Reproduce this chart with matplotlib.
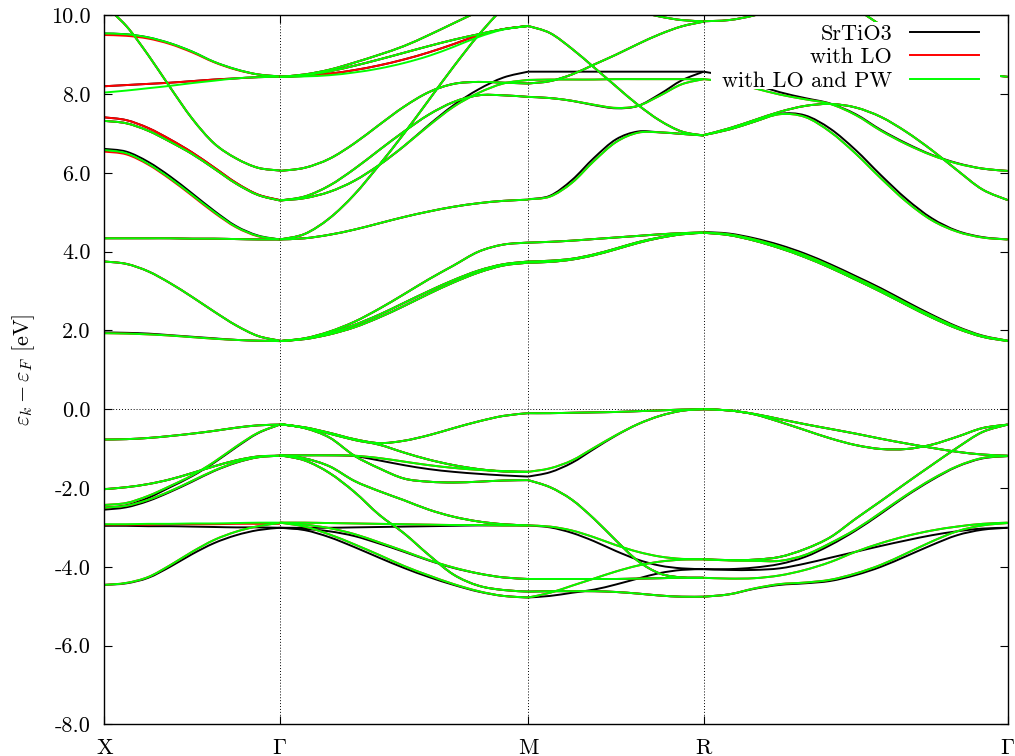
import numpy as np
import matplotlib
matplotlib.use('Agg')
import matplotlib.pyplot as plt
from matplotlib.path import Path
from matplotlib.patches import PathPatch, Rectangle
from matplotlib.lines import Line2D

plt.rcParams['font.family'] = 'serif'
plt.rcParams['font.serif'] = ['cmr10']
plt.rcParams['mathtext.fontset'] = 'cm'
plt.rcParams['axes.unicode_minus'] = False

# k-path X - G - M - R - G (cubic, units of 2pi/a)
k_nodes = [0.0, 0.5, 1.20711, 1.70711, 2.57314]
k_labels = ['X', r'$\Gamma$', 'M', 'R', r'$\Gamma$']
n_pts = [9, 11, 9, 13]

# ---- X -> Gamma (9 points) ----
xg_v1 = [-0.77, -0.76, -0.73, -0.68, -0.62, -0.55, -0.47, -0.41, -0.39]
xg_v2_grn = [-2.43, -2.38, -2.20, -1.95, -1.68, -1.34, -0.95, -0.60, -0.39]
xg_v2_blk = [-2.50, -2.44, -2.25, -1.98, -1.70, -1.36, -0.97, -0.61, -0.39]
xg_v3 = [-2.03, -1.98, -1.90, -1.78, -1.62, -1.45, -1.30, -1.20, -1.18]
xg_v4_grn = [-2.50, -2.45, -2.30, -2.08, -1.82, -1.56, -1.35, -1.22, -1.18]
xg_v4_blk = [-2.55, -2.49, -2.33, -2.10, -1.84, -1.57, -1.36, -1.22, -1.18]
xg_v5_grn = [-2.92, -2.92, -2.91, -2.91, -2.90, -2.90, -2.89, -2.88, -2.88]
xg_v5_red = [-2.93, -2.93, -2.93, -2.92, -2.92, -2.92, -2.91, -2.91, -2.91]
xg_v5_blk = [-2.96, -2.96, -2.97, -2.97, -2.98, -2.99, -3.00, -3.00, -3.01]
xg_v6_grn = [-4.46, -4.41, -4.26, -3.96, -3.62, -3.32, -3.11, -2.97, -2.89]
xg_v6_blk = [-4.46, -4.42, -4.28, -4.00, -3.68, -3.40, -3.20, -3.07, -3.01]
xg_c1_grn = [1.93, 1.92, 1.90, 1.87, 1.83, 1.79, 1.76, 1.74, 1.73]
xg_c1_blk = [1.95, 1.94, 1.92, 1.88, 1.84, 1.80, 1.76, 1.74, 1.73]
xg_c2 = [3.75, 3.69, 3.50, 3.20, 2.85, 2.48, 2.13, 1.86, 1.74]
xg_c3 = [4.34, 4.34, 4.34, 4.34, 4.33, 4.33, 4.32, 4.31, 4.31]
xg_c4_grn = [6.58, 6.50, 6.23, 5.86, 5.44, 5.01, 4.63, 4.40, 4.31]
xg_c4_blk = [6.61, 6.54, 6.28, 5.91, 5.48, 5.04, 4.65, 4.41, 4.31]
xg_c4_red = [6.54, 6.47, 6.21, 5.84, 5.42, 4.99, 4.62, 4.39, 4.31]
xg_c5a = [7.41, 7.34, 7.14, 6.85, 6.52, 6.14, 5.75, 5.45, 5.31]
xg_c5b = [7.32, 7.26, 7.07, 6.79, 6.48, 6.11, 5.73, 5.44, 5.30]
xg_c6_blk = [8.20, 8.23, 8.26, 8.29, 8.33, 8.37, 8.40, 8.43, 8.44]
xg_c6_grn = [8.04, 8.09, 8.15, 8.21, 8.28, 8.34, 8.40, 8.43, 8.44]
xg_c7 = [9.54, 9.52, 9.44, 9.29, 9.08, 8.82, 8.63, 8.50, 8.45]
xg_c7_red = [9.50, 9.48, 9.41, 9.27, 9.06, 8.81, 8.62, 8.50, 8.45]
xg_c8 = [10.25, 9.73, 8.99, 8.17, 7.38, 6.75, 6.37, 6.13, 6.06]

# ---- Gamma -> M (11 points) ----
gm_a = [-0.38, -0.46, -0.60, -0.76, -0.86, -0.80, -0.66, -0.48, -0.31, -0.17, -0.10]
gm_b = [-0.38, -0.47, -0.62, -0.78, -0.90, -1.10, -1.28, -1.42, -1.52, -1.58, -1.59]
gm_c = [-0.38, -0.48, -0.72, -1.18, -1.50, -1.76, -1.84, -1.86, -1.84, -1.81, -1.80]
gm_d_grn = [-1.17, -1.17, -1.17, -1.18, -1.24, -1.33, -1.42, -1.49, -1.54, -1.57, -1.59]
gm_d_blk = [-1.17, -1.17, -1.17, -1.19, -1.30, -1.42, -1.52, -1.59, -1.64, -1.68, -1.71]
gm_e = [-1.17, -1.30, -1.62, -2.10, -2.68, -3.15, -3.70, -4.20, -4.48, -4.59, -4.63]
gm_f = [-1.17, -1.25, -1.45, -1.82, -2.08, -2.31, -2.55, -2.73, -2.85, -2.92, -2.95]
gm_g_grn = [-2.88, -2.88, -2.89, -2.90, -2.91, -2.92, -2.93, -2.94, -2.94, -2.95, -2.95]
gm_g_blk = [-3.01, -3.01, -3.01, -3.00, -2.99, -2.98, -2.97, -2.96, -2.95, -2.95, -2.95]
gm_h_grn = [-2.88, -2.93, -3.02, -3.17, -3.38, -3.60, -3.83, -4.02, -4.17, -4.27, -4.31]
gm_h_blk = [-3.01, -3.04, -3.10, -3.22, -3.41, -3.62, -3.84, -4.03, -4.17, -4.27, -4.31]
gm_i_grn = [-2.88, -2.98, -3.18, -3.43, -3.70, -3.98, -4.22, -4.44, -4.62, -4.74, -4.78]
gm_i_blk = [-3.01, -3.07, -3.25, -3.50, -3.77, -4.03, -4.26, -4.46, -4.63, -4.74, -4.78]
gm_d1a = [1.73, 1.80, 1.97, 2.22, 2.55, 2.92, 3.30, 3.65, 4.00, 4.18, 4.23]
gm_d1b = [1.73, 1.79, 1.93, 2.14, 2.40, 2.70, 3.00, 3.28, 3.52, 3.68, 3.75]
gm_d1c = [1.73, 1.78, 1.90, 2.08, 2.33, 2.62, 2.93, 3.22, 3.47, 3.65, 3.72]
gm_d2 = [4.31, 4.34, 4.43, 4.56, 4.72, 4.88, 5.02, 5.14, 5.23, 5.29, 5.32]
gm_d3 = [4.31, 4.45, 4.85, 5.45, 6.20, 7.00, 7.85, 8.70, 9.50, 10.20, 10.90]
gm_d4 = [5.30, 5.40, 5.68, 6.10, 6.58, 7.05, 7.48, 7.80, 7.97, 7.97, 7.93]
gm_d5_blk = [5.30, 5.36, 5.52, 5.80, 6.20, 6.68, 7.22, 7.72, 8.12, 8.42, 8.57]
gm_d5_grn = [5.30, 5.36, 5.52, 5.80, 6.20, 6.68, 7.20, 7.68, 8.03, 8.27, 8.36]
gm_d6 = [6.05, 6.13, 6.36, 6.75, 7.22, 7.68, 8.05, 8.26, 8.31, 8.29, 8.27]
gm_d7 = [8.44, 8.50, 8.62, 8.80, 9.00, 9.22, 9.50, 9.80, 10.10, 10.40, 10.70]
gm_d8 = [8.44, 8.48, 8.58, 8.72, 8.88, 9.05, 9.22, 9.38, 9.52, 9.65, 9.73]
gm_d9_grn = [8.44, 8.45, 8.48, 8.55, 8.65, 8.79, 8.97, 9.20, 9.45, 9.64, 9.73]
gm_d9_red = [8.44, 8.46, 8.52, 8.61, 8.73, 8.88, 9.06, 9.27, 9.49, 9.65, 9.73]

# ---- M -> R (9 points) ----
mr_1 = [-0.10, -0.10, -0.09, -0.08, -0.07, -0.05, -0.03, -0.01, 0.00]
mr_2_grn = [-1.59, -1.50, -1.30, -0.98, -0.66, -0.38, -0.17, -0.04, 0.00]
mr_2_blk = [-1.71, -1.60, -1.36, -1.01, -0.67, -0.38, -0.17, -0.04, 0.00]
mr_3 = [-1.80, -1.98, -2.30, -2.78, -3.33, -3.85, -4.17, -4.27, -4.28]
mr_4_grn = [-2.95, -2.98, -3.08, -3.25, -3.45, -3.62, -3.74, -3.80, -3.81]
mr_4_blk = [-2.95, -3.00, -3.14, -3.35, -3.60, -3.82, -3.97, -4.04, -4.06]
mr_5 = [-4.31, -4.31, -4.31, -4.31, -4.31, -4.30, -4.29, -4.28, -4.28]
mr_6_grn = [-4.78, -4.66, -4.48, -4.30, -4.12, -3.97, -3.87, -3.82, -3.81]
mr_6_blk = [-4.78, -4.74, -4.66, -4.58, -4.45, -4.30, -4.16, -4.08, -4.06]
mr_7 = [-4.63, -4.62, -4.62, -4.62, -4.64, -4.68, -4.73, -4.76, -4.76]
mr_e1a = [3.75, 3.77, 3.82, 3.93, 4.08, 4.24, 4.36, 4.45, 4.48]
mr_e1b = [3.72, 3.74, 3.80, 3.91, 4.06, 4.22, 4.35, 4.44, 4.48]
mr_e2 = [4.23, 4.25, 4.28, 4.32, 4.36, 4.40, 4.44, 4.47, 4.49]
mr_e3_grn = [5.33, 5.40, 5.75, 6.30, 6.78, 7.02, 7.03, 6.99, 6.95]
mr_e3_blk = [5.33, 5.42, 5.82, 6.38, 6.85, 7.05, 7.03, 6.99, 6.95]
mr_e4_blk = [7.93, 7.90, 7.83, 7.72, 7.64, 7.70, 8.00, 8.35, 8.57]
mr_e4_grn = [7.93, 7.90, 7.83, 7.73, 7.65, 7.70, 7.96, 8.25, 8.38]
mr_e5_blk = [8.57, 8.57, 8.57, 8.57, 8.57, 8.57, 8.57, 8.57, 8.57]
mr_e5_grn = [8.36, 8.37, 8.37, 8.37, 8.38, 8.38, 8.38, 8.38, 8.38]
mr_e6 = [8.27, 8.33, 8.50, 8.75, 9.00, 9.27, 9.52, 9.72, 9.84]
mr_e7 = [9.73, 9.55, 9.15, 8.68, 8.20, 7.73, 7.33, 7.05, 6.95]
mr_e8 = [11.00, 10.80, 10.60, 10.40, 10.25, 10.10, 9.97, 9.88, 9.85]

# ---- R -> Gamma (13 points) ----
rg_1 = [0.00, -0.03, -0.13, -0.32, -0.53, -0.74, -0.91, -1.01, -1.01, -0.90, -0.70, -0.48, -0.39]
rg_2 = [0.00, -0.03, -0.12, -0.25, -0.38, -0.50, -0.62, -0.75, -0.87, -0.98, -1.08, -1.15, -1.18]
rg_3 = [-3.81, -3.83, -3.82, -3.75, -3.55, -3.25, -2.78, -2.33, -1.87, -1.42, -0.98, -0.58, -0.39]
rg_4_grn = [-3.81, -3.84, -3.85, -3.85, -3.70, -3.40, -3.05, -2.62, -2.18, -1.78, -1.45, -1.24, -1.19]
rg_4_blk = [-4.06, -4.06, -4.02, -3.93, -3.75, -3.45, -3.08, -2.65, -2.20, -1.80, -1.46, -1.25, -1.19]
rg_5_grn = [-4.28, -4.30, -4.29, -4.22, -4.08, -3.88, -3.62, -3.40, -3.22, -3.08, -2.98, -2.91, -2.88]
rg_5_blk = [-4.06, -4.08, -4.08, -4.04, -3.92, -3.77, -3.62, -3.47, -3.33, -3.20, -3.10, -3.03, -3.01]
rg_7_grn = [-4.76, -4.70, -4.55, -4.44, -4.40, -4.33, -4.17, -3.95, -3.66, -3.36, -3.10, -2.95, -2.89]
rg_7_blk = [-4.76, -4.70, -4.56, -4.46, -4.42, -4.36, -4.21, -4.00, -3.73, -3.45, -3.20, -3.06, -3.01]
rg_f1a = [4.49, 4.44, 4.31, 4.13, 3.91, 3.64, 3.34, 3.03, 2.69, 2.37, 2.08, 1.86, 1.74]
rg_f1b = [4.48, 4.42, 4.28, 4.09, 3.86, 3.59, 3.29, 2.98, 2.65, 2.33, 2.05, 1.84, 1.73]
rg_f1_blk = [4.50, 4.46, 4.34, 4.17, 3.95, 3.68, 3.38, 3.07, 2.73, 2.40, 2.10, 1.87, 1.74]
rg_f2_grn = [6.96, 7.10, 7.30, 7.49, 7.42, 7.04, 6.49, 5.86, 5.27, 4.80, 4.51, 4.36, 4.31]
rg_f2_blk = [6.96, 7.10, 7.30, 7.50, 7.46, 7.12, 6.58, 5.94, 5.34, 4.85, 4.53, 4.37, 4.31]
rg_f3 = [6.96, 7.13, 7.34, 7.55, 7.70, 7.75, 7.66, 7.42, 7.04, 6.58, 6.07, 5.58, 5.31]
rg_f4_grn = [8.38, 8.30, 8.15, 7.99, 7.87, 7.75, 7.47, 7.07, 6.73, 6.45, 6.24, 6.11, 6.05]
rg_f4_blk = [8.57, 8.45, 8.25, 8.05, 7.90, 7.76, 7.49, 7.09, 6.75, 6.46, 6.25, 6.11, 6.05]
rg_f7 = [9.85, 9.88, 10.00, 10.20, 10.40, 10.35, 10.15, 9.75, 9.35, 9.00, 8.72, 8.52, 8.44]

segments = [
    ([xg_v1, xg_v2_blk, xg_v3, xg_v4_blk, xg_v5_blk, xg_v6_blk, xg_c1_blk, xg_c2, xg_c3,
      xg_c4_blk, xg_c5a, xg_c5b, xg_c6_blk, xg_c7, xg_c8],
     [xg_v1, xg_v2_grn, xg_v3, xg_v4_grn, xg_v5_red, xg_v6_grn, xg_c1_grn, xg_c2, xg_c3,
      xg_c4_red, xg_c5a, xg_c5b, xg_c6_blk, xg_c7_red, xg_c8],
     [xg_v1, xg_v2_grn, xg_v3, xg_v4_grn, xg_v5_grn, xg_v6_grn, xg_c1_grn, xg_c2, xg_c3,
      xg_c4_grn, xg_c5b, xg_c6_grn, xg_c7, xg_c8]),
    ([gm_a, gm_b, gm_c, gm_d_blk, gm_e, gm_f, gm_g_blk, gm_h_blk, gm_i_blk, gm_d1a, gm_d1b,
      gm_d1c, gm_d2, gm_d3, gm_d4, gm_d5_blk, gm_d6, gm_d7, gm_d8, gm_d9_red],
     [gm_a, gm_b, gm_c, gm_d_grn, gm_e, gm_f, gm_g_grn, gm_h_grn, gm_i_grn, gm_d1a, gm_d1b,
      gm_d1c, gm_d2, gm_d3, gm_d4, gm_d5_grn, gm_d6, gm_d7, gm_d8, gm_d9_red],
     [gm_a, gm_b, gm_c, gm_d_grn, gm_e, gm_f, gm_g_grn, gm_h_grn, gm_i_grn, gm_d1a, gm_d1b,
      gm_d1c, gm_d2, gm_d3, gm_d4, gm_d5_grn, gm_d6, gm_d7, gm_d8, gm_d9_grn]),
    ([mr_1, mr_2_blk, mr_3, mr_4_blk, mr_5, mr_6_blk, mr_7, mr_e1a, mr_e1b, mr_e2, mr_e3_blk,
      mr_e4_blk, mr_e5_blk, mr_e6, mr_e7, mr_e8],
     [mr_1, mr_2_grn, mr_3, mr_4_grn, mr_5, mr_6_grn, mr_7, mr_e1a, mr_e1b, mr_e2, mr_e3_grn,
      mr_e4_grn, mr_e5_grn, mr_e6, mr_e7, mr_e8],
     [mr_1, mr_2_grn, mr_3, mr_4_grn, mr_5, mr_6_grn, mr_7, mr_e1a, mr_e1b, mr_e2, mr_e3_grn,
      mr_e4_grn, mr_e5_grn, mr_e6, mr_e7, mr_e8]),
    ([rg_1, rg_2, rg_3, rg_4_blk, rg_5_blk, rg_7_blk, rg_f1_blk, rg_f1b, rg_f2_blk, rg_f3,
      rg_f4_blk, rg_f7],
     [rg_1, rg_2, rg_3, rg_4_grn, rg_5_grn, rg_7_grn, rg_f1a, rg_f1b, rg_f2_grn, rg_f3,
      rg_f4_grn, rg_f7],
     [rg_1, rg_2, rg_3, rg_4_grn, rg_5_grn, rg_7_grn, rg_f1a, rg_f1b, rg_f2_grn, rg_f3,
      rg_f4_grn, rg_f7]),
]

series_colors = ['#000000', '#ff0000', '#00ff00']
series_names = ['SrTiO3', 'with LO', 'with LO and PW']
LW = 1.4


def draw_band(ax, k, e, color):
    # smooth curve through the read points (Catmull-Rom as cubic Bezier)
    pts = np.column_stack([k, e])
    n = len(pts)
    verts = [pts[0]]
    codes = [Path.MOVETO]
    for i in range(n - 1):
        p0 = pts[max(i - 1, 0)]
        p1 = pts[i]
        p2 = pts[i + 1]
        p3 = pts[min(i + 2, n - 1)]
        verts += [p1 + (p2 - p0) / 6.0, p2 - (p3 - p1) / 6.0, p2]
        codes += [Path.CURVE4] * 3
    ax.add_patch(PathPatch(Path(verts, codes), fill=False, edgecolor=color,
                           lw=LW, zorder=2, joinstyle='round', capstyle='butt'))


fig = plt.figure(figsize=(10.15, 7.56), dpi=100)
ax = fig.add_axes([0.1028, 0.0419, 0.8900, 0.9378])

for s, series in enumerate(segments):
    k = np.linspace(k_nodes[s], k_nodes[s + 1], n_pts[s])
    for color, bands in zip(series_colors, series):
        for e in bands:
            draw_band(ax, k, e, color)

for kk in k_nodes[1:-1]:
    ax.axvline(kk, color='black', lw=0.7, ls=(0, (1, 2)), zorder=1)
ax.axhline(0.0, color='black', lw=0.7, ls=(0, (1, 2)), zorder=1)

ax.set_xlim(k_nodes[0], k_nodes[-1])
ax.set_ylim(-8, 10)
ax.set_xticks(k_nodes)
ax.set_xticklabels(k_labels)
yt = np.arange(-8, 10.1, 2)
ax.set_yticks(yt)
ax.set_yticklabels(['%.1f' % v for v in yt])
ax.tick_params(direction='in', length=6, width=0.8, top=True, right=True,
               labelsize=16, pad=10)
for sp in ax.spines.values():
    sp.set_linewidth(1.0)

ax.set_ylabel(r'$\varepsilon_k - \varepsilon_F$ [eV]', fontsize=16)
ax.yaxis.set_label_coords(-0.075, 0.5)

# opaque key box
ax.add_patch(Rectangle((0.6716, 0.8961), 0.3199, 0.0945, transform=ax.transAxes,
                       facecolor='white', edgecolor='none', zorder=2.2))
handles = [Line2D([], [], color=c, lw=LW) for c in series_colors]
ax.legend(handles, series_names, loc='upper right', bbox_to_anchor=(0.968, 0.9878),
          frameon=False, markerfirst=False, handlelength=3.1, handletextpad=0.8,
          labelspacing=0.18, borderpad=0, borderaxespad=0, fontsize=16)

fig.savefig('out.png', dpi=100)
